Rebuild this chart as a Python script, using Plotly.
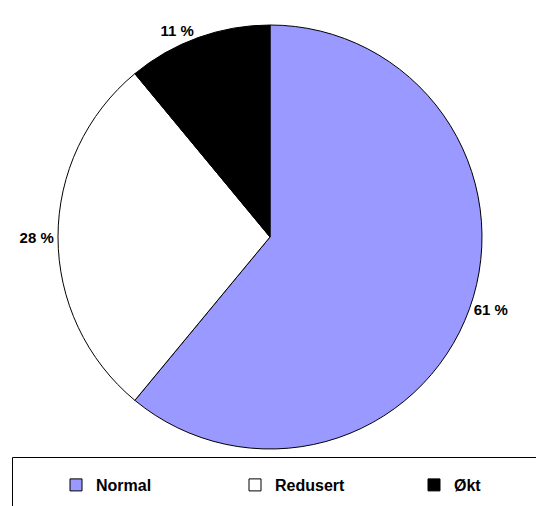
import plotly.graph_objects as go

categories = ["Normal", "Redusert", "Økt"]
values = [61, 28, 11]
colors = ["#9999FF", "#FFFFFF", "#000000"]

W, H = 536, 506
cx, cy, r = 270, 237, 212

fig = go.Figure(go.Pie(
    labels=categories,
    values=values,
    sort=False,
    direction="clockwise",
    rotation=0,
    marker=dict(colors=colors, line=dict(color="black", width=1)),
    texttemplate="%{value} %",
    textposition="outside",
    textfont=dict(family="Liberation Sans, Arial", size=15, color="black", weight="bold"),
    hoverinfo="label+value",
    domain=dict(x=[(cx - r) / W, (cx + r) / W],
                y=[(H - cy - r) / H, (H - cy + r) / H]),
))

fig.update_layout(
    width=W, height=H,
    margin=dict(l=0, r=0, t=0, b=0, autoexpand=False),
    paper_bgcolor="white",
    plot_bgcolor="white",
    showlegend=True,
    legend=dict(
        orientation="h",
        x=56 / W, xanchor="left",
        y=(H - 485) / H, yanchor="middle",
        font=dict(family="Liberation Sans, Arial", size=16, color="black", weight="bold"),
        entrywidth=134, entrywidthmode="pixels",
        itemwidth=30,
        bgcolor="rgba(0,0,0,0)",
        borderwidth=0,
        traceorder="normal",
    ),
    shapes=[dict(
        type="rect", xref="paper", yref="paper",
        x0=12.5 / W, x1=1.05, y0=-0.05, y1=(H - 457.5) / H,
        line=dict(color="black", width=1), fillcolor="rgba(0,0,0,0)",
    )],
)

fig.write_html(
    "out.html",
    config={"displayModeBar": False},
    post_script="document.body.style.margin='0';document.body.style.overflow='hidden';",
)
